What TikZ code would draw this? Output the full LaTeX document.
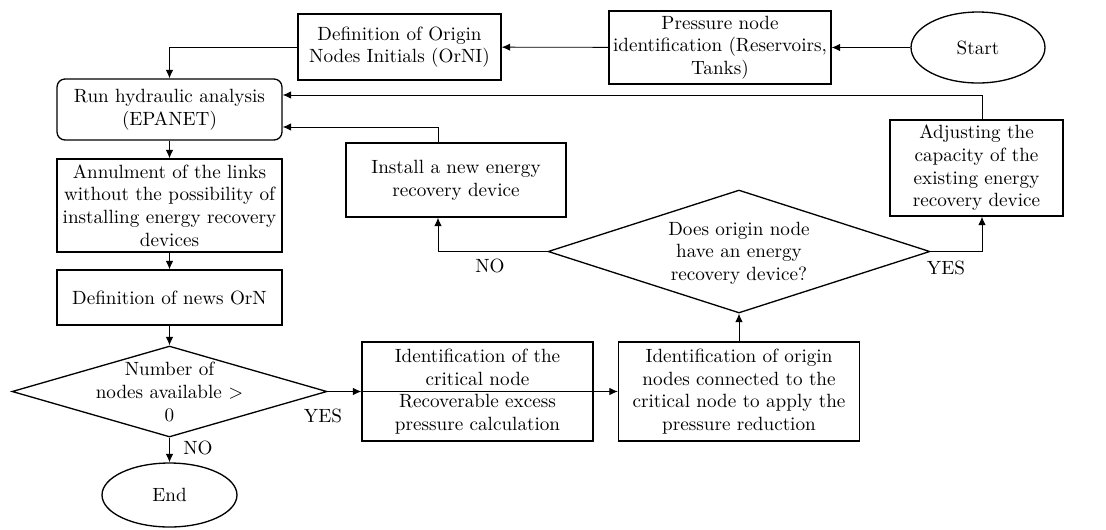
\documentclass[tikz,border=0pt]{standalone}
\usepackage{tikz}
\usetikzlibrary{arrows.meta}
\usetikzlibrary{shapes.geometric}
\usetikzlibrary{positioning}
\tikzset{box/.style = {draw, rectangle, line width = 0.75pt, align = center, inner sep = 0},
         term/.style = {draw, ellipse, line width = 0.75pt, inner sep = 0},
         ask/.style = {draw, diamond, line width = 0.75pt, inner sep = 0},
         txt/.style = {align = center, inner sep = 0},
         link/.style = {line width = 0.5pt, -{Latex[length = 4.8pt, width = 4.2pt]}}}

\begin{document}
\begin{tikzpicture}[x = 0.02cm, y = -0.02cm, font = \fontsize{10.9}{12.9}\selectfont]

      \useasboundingbox (0, 0) rectangle (1106, 529);

      \node [term, minimum width = 2.68cm, minimum height = 1.42cm] (start) at (978, 47.5) {Start};
      \node [box, minimum width = 4.44cm, minimum height = 1.46cm] (press) at (720, 47.5) {Pressure node\\identification (Reservoirs,\\Tanks)};
      \node [box, minimum width = 4.06cm, minimum height = 1.32cm] (orni) at (399.5, 47) {Definition of Origin\\Nodes Initials (OrNI)};
      \node [box, rounded corners = 0.16cm, minimum width = 4.5cm, minimum height = 1.22cm] (run) at (169.5, 109.5) {Run hydraulic analysis\\(EPANET)};
      \node [box, minimum width = 4.5cm, minimum height = 1.86cm] (annul) at (169.5, 205.5) {Annulment of the links\\without the possibility of\\installing energy recovery\\devices};
      \node [box, minimum width = 4.5cm, minimum height = 1.1cm] (news) at (169.5, 297.5) {Definition of news OrN};
      \node [ask, minimum width = 6.3cm, minimum height = 1.82cm] (avail) at (169.5, 391.5) {};
      \node [txt] (availtxt) at (169.5, 392) {Number of\\nodes available >\\0};
      \node [term, minimum width = 2.7cm, minimum height = 1.28cm] (end) at (169.5, 495) {End};
      \node [box, minimum width = 4.62cm, minimum height = 1.98cm] (crit) at (477.5, 391.5) {Identification of the\\critical node\\Recoverable excess\\pressure calculation};
      \node [box, minimum width = 4.82cm, minimum height = 1.98cm] (orig) at (739, 391.5) {Identification of origin\\nodes connected to the\\critical node to apply the\\pressure reduction};
      \node [ask, minimum width = 7.64cm, minimum height = 2.46cm] (dev) at (739, 251.5) {};
      \node [txt] (devtxt) at (739, 253) {Does origin node\\have an energy\\recovery device?};
      \node [box, minimum width = 4.4cm, minimum height = 1.48cm] (inst) at (456, 180) {Install a new energy\\recovery device};
      \node [box, minimum width = 3.46cm, minimum height = 1.92cm] (adj) at (976.5, 168) {Adjusting the\\capacity of the\\existing energy\\recovery device};

      \node [txt] (no1) at (490, 266) {NO};
      \node [txt] (yes1) at (946, 268) {YES};
      \node [txt] (no2) at (198, 448) {NO};
      \node [txt] (yes2) at (323, 416) {YES};

      \draw [link] (start) -- (press);
      \draw [link] (press) -- (orni);
      \draw [link] (orni.west) -| (run.north);
      \draw [link] (run) -- (annul);
      \draw [link] (annul) -- (news);
      \draw [link] (news) -- (avail.north);
      \draw [link] (avail.south) -- (end);
      \draw [link] (avail.east) -- (crit.west);
      \draw [link] (crit.west) -- (orig.west);
      \draw [link] (orig) -- (dev.south);
      \draw [link] (dev.west) -| ([xshift = -0.36cm] inst.south);
      \draw [link] (dev.east) -| ([xshift = 0.11cm] adj.south);
      \draw [link] ([xshift = -0.36cm] inst.north) |- ([yshift = -0.35cm] run.east);
      \draw [link] ([xshift = 0.11cm] adj.north) |- ([yshift = 0.29cm] run.east);
    \end{tikzpicture}
\end{document}
